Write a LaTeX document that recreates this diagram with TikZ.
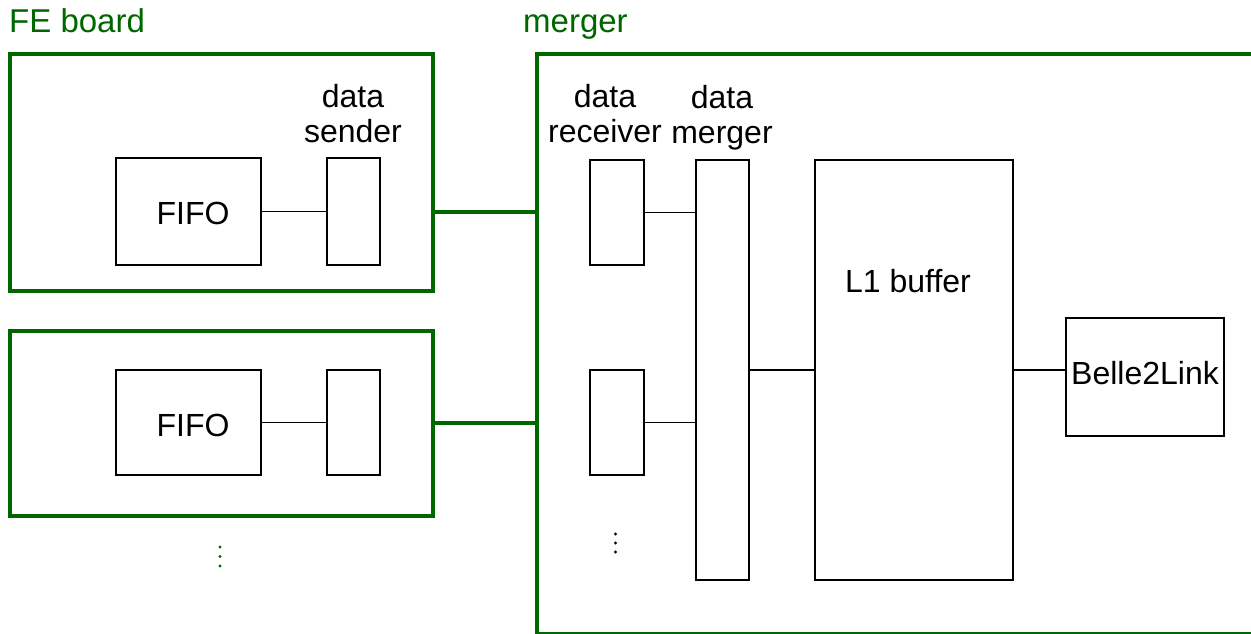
\documentclass[tikz,border=0pt]{standalone}
\usepackage{fontspec}
\setmainfont{Liberation Sans}
\definecolor{boardgreen}{RGB}{0,102,0}
\tikzset{
  board/.style={draw=boardgreen, line width=4pt, rectangle, inner sep=0pt},
  block/.style={draw=black, line width=2.6pt, rectangle, inner sep=0pt},
  tag/.style={font=\fontsize{32}{35}\selectfont, align=center, inner sep=0pt},
  head/.style={font=\fontsize{33}{36}\selectfont, text=boardgreen, inner sep=0pt, anchor=base west},
  wire/.style={line width=1.2pt},
  link/.style={draw=boardgreen, line width=4pt},
}
\begin{document}
\begin{tikzpicture}[x=1pt, y=-1pt]
\useasboundingbox (0,0) rectangle (1251,633);
\clip (0,0) rectangle (1251,633);

% headings
\node[head] (hfe) at (9,32) {FE board};
\node[head] (hmg) at (523,32) {merger};

% front-end boards
\node[board, minimum width=423pt, minimum height=237pt] (fe1) at (221.5,172.5) {};
\node[board, minimum width=423pt, minimum height=185pt] (fe2) at (221.5,423.5) {};
\node[block, minimum width=145pt, minimum height=107pt] (fifo1) at (188.5,211.5) {};
\node[block, minimum width=145pt, minimum height=105pt] (fifo2) at (188.5,422.5) {};
\node[tag] (tfifo1) at (193,213) {FIFO};
\node[tag] (tfifo2) at (193,425) {FIFO};
\node[block, minimum width=53pt, minimum height=107pt] (snd1) at (353.5,211.5) {};
\node[block, minimum width=53pt, minimum height=105pt] (snd2) at (353.5,422.5) {};
\node[tag] (tsnd) at (353,114) {data\\sender};

% merger board (runs past the picture edge)
\node[board, minimum width=728pt, minimum height=580pt] (mg) at (901,344) {};
\node[block, minimum width=54pt, minimum height=105pt] (rcv1) at (617,212.5) {};
\node[block, minimum width=54pt, minimum height=105pt] (rcv2) at (617,422.5) {};
\node[block, minimum width=53pt, minimum height=420pt] (dm) at (722.5,370) {};
\node[block, minimum width=198pt, minimum height=420pt] (l1) at (914,370) {};
\node[tag] (tl1) at (908,281) {L1 buffer};
\node[block, minimum width=158pt, minimum height=118pt] (b2l) at (1145,377) {};
\node[tag] (tb2l) at (1145,373) {Belle2Link};
\node[tag] (trcv) at (605,114) {data\\receiver};
\node[tag] (tdm) at (722,118) {data\\merger};

% connections inside the boards
\draw[wire] (fifo1.east) -- (snd1.west);
\draw[wire] (fifo2.east) -- (snd2.west);
\draw[wire] (rcv1.east) -- (rcv1.east -| dm.west);
\draw[wire] (rcv2.east) -- (rcv2.east -| dm.west);
\draw[wire] (dm.east) -- (l1.west);
\draw[wire] (l1.east) -- (l1.east -| b2l.west);

% board-to-board links
\draw[link] (fifo1.east -| fe1.east) -- (fifo1.east -| mg.west);
\draw[link] (fifo2.east -| fe2.east) -- (fifo2.east -| mg.west);

% continuation dots
\foreach \y in {547,556.5,566} \fill[boardgreen] (220,\y) circle (1.7pt);
\foreach \y in {534,543,552} \fill[black] (615.5,\y) circle (1.7pt);
\end{tikzpicture}
\end{document}
